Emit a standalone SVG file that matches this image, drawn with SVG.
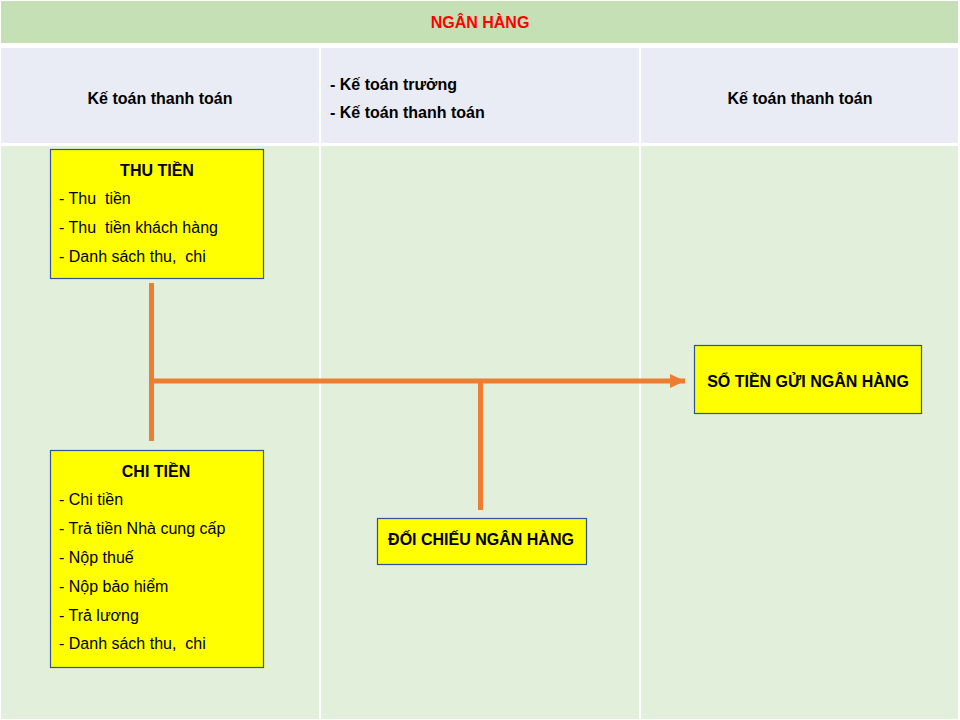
<svg xmlns="http://www.w3.org/2000/svg" width="960" height="720" viewBox="0 0 960 720">
<defs>
<style>
.t{font-family:"Liberation Sans",Arial,sans-serif;font-size:16px;fill:#000}
.b{font-weight:bold}
.box{fill:#ffff00;stroke:#2f5597;stroke-width:1.2}
.cell{stroke:#ffffff;stroke-width:2}
.con{stroke:#ed7d31;stroke-width:5;fill:none}
</style>
<marker id="ah" markerWidth="6" markerHeight="6" refX="3" refY="3" orient="auto" markerUnits="strokeWidth">
<path d="M0,1.6 L3,3 L0,4.4 Z" fill="#ed7d31"/>
</marker>
</defs>
<rect width="960" height="720" fill="#ffffff"/>
<g id="swimlanes">
<rect x="0" y="0" width="959" height="44" fill="#c5e0b4" class="cell"/>
<rect x="0" y="47" width="320" height="97" fill="#e9ebf5" class="cell"/>
<rect x="320" y="47" width="320" height="97" fill="#e9ebf5" class="cell"/>
<rect x="640" y="47" width="319" height="97" fill="#e9ebf5" class="cell"/>
<rect x="0" y="145" width="320" height="575" fill="#e2efda" class="cell"/>
<rect x="320" y="145" width="320" height="575" fill="#e2efda" class="cell"/>
<rect x="640" y="145" width="319" height="575" fill="#e2efda" class="cell"/>
<text class="t b" x="480" y="28" text-anchor="middle" style="fill:#ff0000">NGÂN HÀNG</text>
<text class="t b" x="160" y="104" text-anchor="middle">Kế toán thanh toán</text>
<text class="t b" x="330" y="90">- Kế toán trưởng</text>
<text class="t b" x="330" y="118">- Kế toán thanh toán</text>
<text class="t b" x="800" y="104" text-anchor="middle">Kế toán thanh toán</text>
</g>
<g id="connectors">
<line class="con" x1="151.5" y1="283" x2="151.5" y2="441"/>
<line class="con" x1="151.5" y1="381" x2="685" y2="381" marker-end="url(#ah)"/>
<line class="con" x1="480.5" y1="381" x2="480.5" y2="510"/>
</g>
<g id="thu-tien">
<rect class="box" x="50.5" y="149.5" width="213" height="129"/>
<text class="t b" x="157" y="176" text-anchor="middle">THU TIỀN</text>
<text class="t" x="59" y="204">- Thu&#160; tiền</text>
<text class="t" x="59" y="233">- Thu&#160; tiền khách hàng</text>
<text class="t" x="59" y="262">- Danh sách thu,&#160; chi</text>
</g>
<g id="chi-tien">
<rect class="box" x="50.5" y="450.5" width="213" height="217"/>
<text class="t b" x="156" y="477" text-anchor="middle">CHI TIỀN</text>
<text class="t" x="59" y="505">- Chi tiền</text>
<text class="t" x="59" y="534">- Trả tiền Nhà cung cấp</text>
<text class="t" x="59" y="563">- Nộp thuế</text>
<text class="t" x="59" y="592">- Nộp bảo hiểm</text>
<text class="t" x="59" y="621">- Trả lương</text>
<text class="t" x="59" y="649">- Danh sách thu,&#160; chi</text>
</g>
<g id="doi-chieu">
<rect class="box" x="377.5" y="518.5" width="209" height="46"/>
<text class="t b" x="481" y="545" text-anchor="middle">ĐỐI CHIẾU NGÂN HÀNG</text>
</g>
<g id="so-tien-gui">
<rect class="box" x="694.5" y="345.5" width="227" height="68"/>
<text class="t b" x="808" y="387" text-anchor="middle">SỔ TIỀN GỬI NGÂN HÀNG</text>
</g>
</svg>
